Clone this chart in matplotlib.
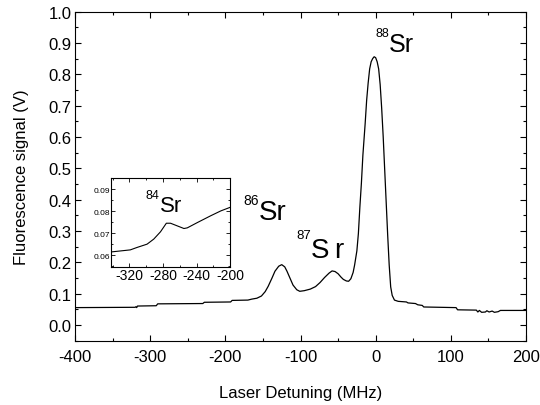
import matplotlib
matplotlib.use('Agg')
import matplotlib.pyplot as plt
from matplotlib.ticker import MultipleLocator

plt.rcParams['font.family'] = ['Liberation Sans', 'DejaVu Sans']
plt.rcParams['axes.unicode_minus'] = False

# main spectrum (MHz, V)
detuning = [-400, -320, -319, -318, -317, -292, -290, -230, -229, -228, -193, -191, -170,
            -165, -158, -152, -147, -143, -138, -134, -129, -125, -121, -118, -114,
            -110, -105, -101, -95, -87, -80, -74, -68, -62, -58, -54, -50, -46,
            -43, -39, -36, -33, -30, -28, -25, -23, -21, -19, -17, -14, -12, -10,
            -8, -6, -4, -2, 0, 2, 4, 6, 8, 10, 12, 14, 16, 18, 20, 22, 25, 30,
            41, 43, 53, 56, 62, 64, 107, 109, 134, 136, 138, 141, 146, 148, 151,
            155, 158, 163, 166, 200]
signal = [0.056, 0.057, 0.059, 0.056, 0.061, 0.062, 0.068, 0.069, 0.071, 0.073, 0.074, 0.079, 0.080,
          0.083, 0.086, 0.093, 0.107, 0.124, 0.150, 0.172, 0.188, 0.193, 0.186, 0.172, 0.150,
          0.128, 0.113, 0.108, 0.110, 0.115, 0.123, 0.136, 0.152, 0.166, 0.173, 0.171, 0.164, 0.153,
          0.146, 0.141, 0.140, 0.148, 0.168, 0.192, 0.237, 0.292, 0.377, 0.452, 0.542, 0.642, 0.717, 0.772,
          0.817, 0.840, 0.850, 0.856, 0.853, 0.840, 0.817, 0.767, 0.692, 0.602, 0.497, 0.392, 0.287, 0.192, 0.122, 0.095, 0.080, 0.076,
          0.074, 0.071, 0.069, 0.065, 0.063, 0.058, 0.056, 0.049, 0.048, 0.042, 0.047, 0.041, 0.042, 0.046, 0.042,
          0.045, 0.041, 0.043, 0.047, 0.047]

# inset: 84Sr region
inset_detuning = [-341, -319, -311, -299, -291, -283, -276, -271, -263, -255, -251, -239, -223, -211, -200]
inset_signal = [0.0615, 0.0624, 0.0635, 0.065, 0.0673, 0.0706, 0.0745, 0.0745, 0.0733, 0.0721,
                0.0724, 0.0748, 0.0779, 0.0801, 0.0817]


def iso_label(ax, mass, x, y, sr_size, num_size, rise, sr='Sr'):
    ax.text(x, y, sr, fontsize=sr_size, ha='left', va='baseline')
    ax.annotate(mass, (x, y), xytext=(0, rise), textcoords='offset points',
                fontsize=num_size, ha='right', va='baseline')


fig = plt.figure(figsize=(5.4, 4.06), dpi=100)
ax = fig.add_axes([0.139, 0.158, 0.835, 0.811])
ax.plot(detuning, signal, color='black', lw=0.9)
ax.set_xlim(-400, 200)
ax.set_ylim(-0.05, 1.0)
ax.xaxis.set_major_locator(MultipleLocator(100))
ax.xaxis.set_minor_locator(MultipleLocator(50))
ax.yaxis.set_major_locator(MultipleLocator(0.1))
ax.yaxis.set_minor_locator(MultipleLocator(0.05))
ax.yaxis.set_major_formatter('{x:.1f}')
ax.tick_params(which='both', direction='in', top=True, right=True, labelsize=12, width=0.8)
ax.tick_params(which='major', length=4.5)
ax.tick_params(which='minor', length=2.5)
ax.tick_params(axis='y', pad=2.5)
ax.tick_params(axis='x', pad=6)
ax.set_xlabel('Laser Detuning (MHz)', fontsize=12, labelpad=15)
ax.set_ylabel('Fluorescence signal (V)', fontsize=12, labelpad=14)

iso_label(ax, '88', 18, 0.875, 18, 9, 11)
iso_label(ax, '86', -155.5, 0.337, 20, 10, 11.5)
iso_label(ax, '87', -86, 0.218, 20, 9.5, 13.5, sr='S\u2009r')

# inset
ins = fig.add_axes([0.2056, 0.3392, 0.2204, 0.2192])
ins.plot(inset_detuning, inset_signal, color='black', lw=0.8)
ins.set_xlim(-342, -200)
ins.set_ylim(0.0545, 0.0949)
ins.xaxis.set_major_locator(MultipleLocator(40))
ins.xaxis.set_minor_locator(MultipleLocator(20))
ins.yaxis.set_major_locator(MultipleLocator(0.01))
ins.yaxis.set_minor_locator(MultipleLocator(0.005))
ins.yaxis.set_major_formatter('{x:.2f}')
ins.tick_params(which='both', direction='in', top=True, right=True, width=0.6)
ins.tick_params(which='major', length=3)
ins.tick_params(which='minor', length=1.5)
ins.tick_params(axis='x', labelsize=10, pad=0.5)
ins.tick_params(axis='y', labelsize=6, pad=0.5)
iso_label(ins, '84', -284, 0.0801, 16, 9, 9.5)

fig.savefig('out.png', dpi=100)
